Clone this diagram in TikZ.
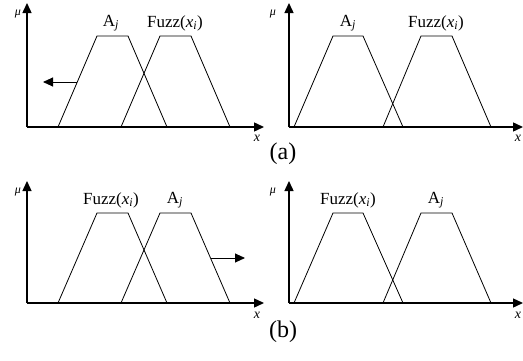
\documentclass[tikz,border=0pt]{standalone}
\usepackage{fontspec}
\setmainfont{Liberation Serif}
\usetikzlibrary{arrows.meta}
\newcommand{\sub}[1]{\textsubscript{\itshape #1}}
\begin{document}
\begin{tikzpicture}[
        x=1pt, y=1pt,
        axis/.style={line width=1.4pt, -{Triangle[length=10pt,width=9pt]}},
        member/.style={line width=0.8pt},
        shiftarrow/.style={line width=0.9pt, -{Triangle[length=10pt,width=9pt]}},
        setlabel/.style={font=\fontsize{17}{19}\selectfont, inner sep=0pt},
        mulabel/.style={font=\fontsize{12}{14}\selectfont\itshape, inner sep=0pt},
        xlabel/.style={font=\fontsize{14}{16}\selectfont\itshape, inner sep=0pt},
        caption/.style={font=\fontsize{24}{27}\selectfont, inner sep=0pt}
    ]
    \useasboundingbox (0,0) rectangle (523,360);

    % ==========================================
    % (a) LEFT: A_j moves to the left
    % ==========================================
    \begin{scope}[shift={(27,233)}]
        \coordinate (o) at (0,0);
        \coordinate (ytip) at (0,124);
        \coordinate (xtip) at (237,0);
        \draw[axis] (o) -- (ytip);
        \draw[axis] (o) -- (xtip);
        \node[mulabel] (mu1) at (-9,113) {μ};
        \node[xlabel] (x1) at (230,-11) {x};

        \draw[member] (31,0) -- (70,91) -- (101,91) -- (140,0); % A_j
        \draw[member] (94,0) -- (133,91) -- (164,91) -- (203,0); % Fuzz
        \node[setlabel] (a1) at (84,104) {A\sub{j}};
        \node[setlabel] (f1) at (148,104) {Fuzz(\textit{x}\sub{i})};

        \coordinate (s1) at (50,45);
        \coordinate (e1) at (16,45);
        \draw[shiftarrow] (s1) -- (e1);
    \end{scope}

    % ==========================================
    % (a) RIGHT
    % ==========================================
    \begin{scope}[shift={(289,233)}]
        \coordinate (o) at (0,0);
        \coordinate (ytip) at (0,124);
        \coordinate (xtip) at (234,0);
        \draw[axis] (o) -- (ytip);
        \draw[axis] (o) -- (xtip);
        \node[mulabel] (mu2) at (-16,113) {μ};
        \node[xlabel] (x2) at (229,-11) {x};

        \draw[member] (5,0) -- (44,91) -- (74,91) -- (114,0); % A_j
        \draw[member] (94,0) -- (132,91) -- (163,91) -- (202,0); % Fuzz
        \node[setlabel] (a2) at (59,104) {A\sub{j}};
        \node[setlabel] (f2) at (147,104) {Fuzz(\textit{x}\sub{i})};
    \end{scope}

    \node[caption] (capa) at (283,206) {(a)};

    % ==========================================
    % (b) LEFT: A_j moves to the right
    % ==========================================
    \begin{scope}[shift={(27,57)}]
        \coordinate (o) at (0,0);
        \coordinate (ytip) at (0,122);
        \coordinate (xtip) at (237,0);
        \draw[axis] (o) -- (ytip);
        \draw[axis] (o) -- (xtip);
        \node[mulabel] (mu3) at (-9,111) {μ};
        \node[xlabel] (x3) at (230,-12) {x};

        \draw[member] (31,0) -- (70,90) -- (101,90) -- (140,0); % Fuzz
        \draw[member] (94,0) -- (133,90) -- (164,90) -- (203,0); % A_j
        \node[setlabel] (f3) at (84,103) {Fuzz(\textit{x}\sub{i})};
        \node[setlabel] (a3) at (148,103) {A\sub{j}};

        \coordinate (s3) at (184,45);
        \coordinate (e3) at (218,45);
        \draw[shiftarrow] (s3) -- (e3);
    \end{scope}

    % ==========================================
    % (b) RIGHT
    % ==========================================
    \begin{scope}[shift={(289,57)}]
        \coordinate (o) at (0,0);
        \coordinate (ytip) at (0,122);
        \coordinate (xtip) at (234,0);
        \draw[axis] (o) -- (ytip);
        \draw[axis] (o) -- (xtip);
        \node[mulabel] (mu4) at (-16,111) {μ};
        \node[xlabel] (x4) at (229,-12) {x};

        \draw[member] (5,0) -- (44,90) -- (74,90) -- (114,0); % Fuzz
        \draw[member] (94,0) -- (132,90) -- (163,90) -- (202,0); % A_j
        \node[setlabel] (f4) at (59,103) {Fuzz(\textit{x}\sub{i})};
        \node[setlabel] (a4) at (147,103) {A\sub{j}};
    \end{scope}

    \node[caption] (capb) at (283,28) {(b)};

\end{tikzpicture}
\end{document}
